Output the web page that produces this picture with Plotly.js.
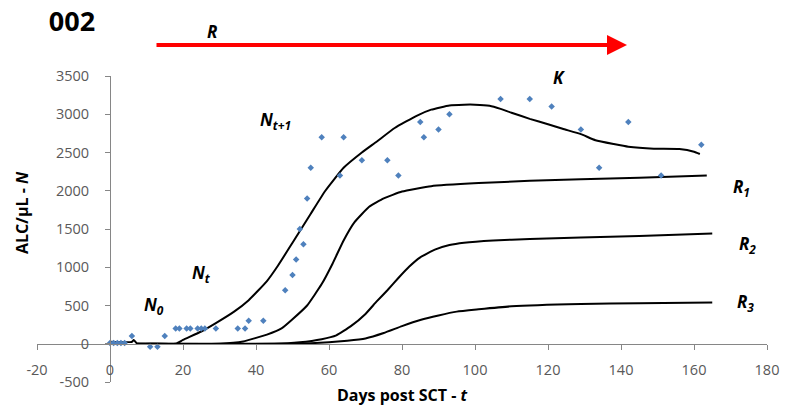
<!DOCTYPE html>
<html>
<head>
<meta charset="utf-8">
<script src="https://cdn.plot.ly/plotly-3.0.1.min.js"></script>
<style>html,body{margin:0;padding:0;background:#fff;}#chart{width:791px;height:416px;}</style>
</head>
<body>
<div id="chart"></div>
<script>
// Observed ALC values (blue points)
const obsDays = [0, 1, 2, 3, 4, 6, 11, 13, 15, 18, 19, 21, 22, 24, 25, 26, 29, 35, 37, 38, 42,
  48, 50, 51, 52, 53, 54, 55, 58, 63, 64, 69, 76, 79, 85, 86, 90, 93, 107, 115, 121, 129, 134, 142, 151, 162];
const obsAlc = [10, 10, 10, 10, 10, 100, -40, -40, 100, 200, 200, 200, 200, 200, 200, 200, 200, 200, 200, 300, 300,
  700, 900, 1100, 1500, 1300, 1900, 2300, 2700, 2200, 2700, 2400, 2400, 2200, 2900, 2700, 2800, 3000, 3200, 3200, 3100, 2800, 2300, 2900, 2200, 2600];

// Model curve N (total)
const nDays = [0, 6, 6.5, 7.5, 12, 18, 20, 25, 29, 34, 38, 43, 46, 50, 55, 59, 64, 69, 73, 78, 84, 88, 93, 97, 100, 104, 107, 110, 115, 120, 124, 129, 133, 138, 142, 149, 156, 160, 161.6];
const nVals = [25, 25, 50, 0, 0, 0, 50, 160, 270, 420, 570, 820, 1020, 1320, 1700, 2000, 2300, 2500, 2640, 2820, 2980, 3060, 3115, 3125, 3125, 3110, 3070, 3020, 2940, 2870, 2810, 2740, 2660, 2610, 2575, 2550, 2545, 2510, 2480];

// Model curves R1, R2, R3
const r1Days = [7.5, 30, 36.5, 43, 47, 50, 54, 58, 61, 64, 67, 71, 75, 80, 88, 101, 115, 129, 145, 163.5];
const r1Vals = [0, 0, 30, 120, 200, 320, 500, 780, 1050, 1350, 1590, 1790, 1900, 1990, 2060, 2100, 2130, 2150, 2170, 2200];

const r2Days = [7.5, 45, 52, 58, 62, 66, 70, 73, 76, 79, 82, 85, 89, 93, 97, 105, 115, 129, 145, 165];
const r2Vals = [0, 0, 20, 60, 110, 230, 390, 550, 700, 860, 1010, 1130, 1230, 1290, 1320, 1350, 1370, 1390, 1410, 1440];

const r3Days = [7.5, 50, 60, 65, 70, 75, 80, 85, 90, 95, 101, 110, 129, 145, 165];
const r3Vals = [0, 0, 20, 40, 70, 140, 230, 310, 370, 420, 450, 490, 520, 530, 540];

const xTicks = [-20, 0, 20, 40, 60, 80, 100, 120, 140, 160, 180];
const yTicks = [-500, 0, 500, 1000, 1500, 2000, 2500, 3000, 3500];

const FONT = 'Open Sans, Liberation Sans, sans-serif';
const lineStyle = {color: '#000000', width: 2, shape: 'spline', smoothing: 0.4};

const traces = [
  {x: nDays, y: nVals, mode: 'lines', line: lineStyle, name: 'N', hoverinfo: 'skip'},
  {x: r1Days, y: r1Vals, mode: 'lines', line: lineStyle, name: 'R1', hoverinfo: 'skip'},
  {x: r2Days, y: r2Vals, mode: 'lines', line: lineStyle, name: 'R2', hoverinfo: 'skip'},
  {x: r3Days, y: r3Vals, mode: 'lines', line: lineStyle, name: 'R3', hoverinfo: 'skip'},
  {x: obsDays, y: obsAlc, mode: 'markers', name: 'ALC',
   marker: {symbol: 'diamond', size: 5, color: '#4f81bd'}}
];

const labelFont = {family: FONT, size: 17, color: '#000000'};
function lab(text, x, y) {
  return {text: text, x: x, y: y, xref: 'paper', yref: 'paper', showarrow: false,
          xanchor: 'center', yanchor: 'middle', font: labelFont};
}

const layout = {
  width: 791, height: 416,
  margin: {l: 37, r: 24, t: 76, b: 34},
  paper_bgcolor: '#ffffff', plot_bgcolor: '#ffffff',
  showlegend: false,
  font: {family: FONT, color: '#595959'},
  title: {text: '<b>002</b>', x: 72 / 791, y: 1 - 22 / 416, xref: 'container', yref: 'container',
          xanchor: 'center', yanchor: 'middle', font: {family: FONT, size: 27, color: '#000000'}},
  xaxis: {
    range: [-20, 180], domain: [0, 1], anchor: 'free', position: 0.125,
    tickvals: xTicks, ticktext: xTicks.map(String),
    showgrid: false, zeroline: false, showline: true, linecolor: '#868686', linewidth: 1,
    ticks: 'outside', ticklen: 5, tickcolor: '#868686', ticklabelstandoff: 8,
    tickfont: {family: FONT, size: 14.5, color: '#595959'}
  },
  yaxis: {
    range: [-500, 3500], domain: [0, 1], anchor: 'free', position: 0.1,
    tickvals: yTicks, ticktext: yTicks.map(String),
    showgrid: false, zeroline: false, showline: true, linecolor: '#868686', linewidth: 1,
    ticks: 'outside', ticklen: 5, tickcolor: '#868686', ticklabelstandoff: 13,
    tickfont: {family: FONT, size: 14.5, color: '#595959'}
  },
  annotations: [
    {text: '<b>Days post SCT - <i>t</i></b>', x: 0.5, y: (382 - 395) / 306, xref: 'paper', yref: 'paper',
     showarrow: false, xanchor: 'center', yanchor: 'middle', font: {family: FONT, size: 16, color: '#000000'}},
    {text: '<b>ALC/µL - <i>N</i></b>', x: (22 - 37) / 730, y: (382 - 213) / 306, xref: 'paper', yref: 'paper',
     textangle: -90, showarrow: false, xanchor: 'center', yanchor: 'middle', font: {family: FONT, size: 16, color: '#000000'}},
    {text: '', x: (627 - 37) / 730, y: (382 - 45) / 306, xref: 'paper', yref: 'paper',
     ax: -472, ay: 0, showarrow: true, arrowhead: 2, arrowsize: 1, arrowwidth: 4, arrowcolor: '#ff0000', standoff: 0},
    lab('<b><i>R</i></b>', (212 - 37) / 730, (382 - 31) / 306),
    lab('<b><i>N<sub>0</sub></i></b>', (154 - 37) / 730, (382 - 305) / 306),
    lab('<b><i>N<sub>t</sub></i></b>', (201 - 37) / 730, (382 - 273) / 306),
    lab('<b><i>N<sub>t+1</sub></i></b>', (275 - 37) / 730, (382 - 120) / 306),
    lab('<b><i>K</i></b>', (559 - 37) / 730, (382 - 77) / 306),
    lab('<b><i>R<sub>1</sub></i></b>', (741 - 37) / 730, (382 - 187) / 306),
    lab('<b><i>R<sub>2</sub></i></b>', (747 - 37) / 730, (382 - 244) / 306),
    lab('<b><i>R<sub>3</sub></i></b>', (745 - 37) / 730, (382 - 302) / 306)
  ]
};

Plotly.newPlot('chart', traces, layout, {staticPlot: true, displayModeBar: false});
</script>
</body>
</html>
